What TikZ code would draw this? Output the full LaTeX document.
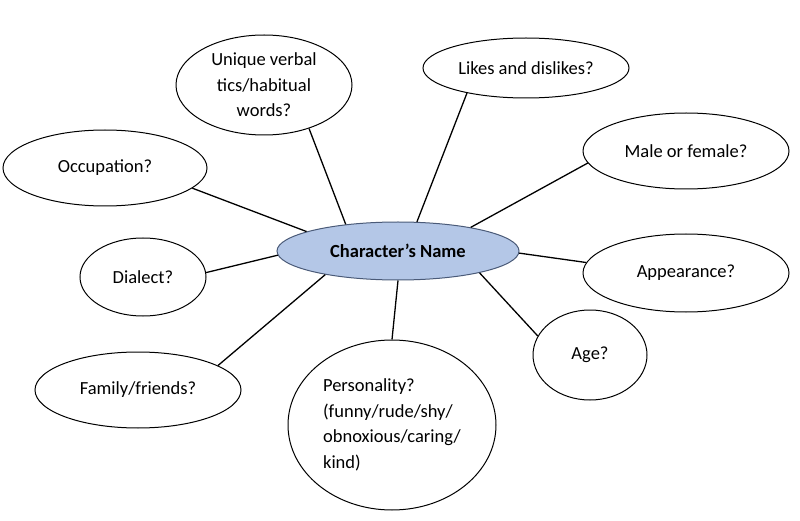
\documentclass[tikz,border=0pt]{standalone}
\usepackage{fontspec}
\setmainfont{Carlito}
\usetikzlibrary{shapes.geometric}
\definecolor{cfill}{HTML}{B4C7E7}
\definecolor{cedge}{HTML}{4A5A78}
\begin{document}
\begin{tikzpicture}[x=1pt,y=-1pt,
  bub/.style={ellipse,draw=black,line width=1pt,inner sep=0pt,align=center,font=\fontsize{18.5}{25.5}\selectfont},
  link/.style={line width=1.3pt}]
\useasboundingbox (0,0) rectangle (800,521);
\node[bub,fill=cfill,draw=cedge,minimum width=242,minimum height=58,font=\fontsize{18.5}{22}\selectfont\bfseries] (c) at (398,251) {Character’s Name};
\node[bub,minimum width=176,minimum height=100] (u) at (264,85) {Unique verbal\\tics/habitual\\words?};
\node[bub,minimum width=206,minimum height=60] (l) at (526,68) {Likes and dislikes?};
\node[bub,minimum width=206,minimum height=76] (m) at (686,151) {Male or female?};
\node[bub,minimum width=204,minimum height=76] (o) at (105,168) {Occupation?};
\node[bub,minimum width=126,minimum height=78] (d) at (143,277) {Dialect?};
\node[bub,minimum width=206,minimum height=78] (a) at (686,273) {Appearance?};
\node[bub,minimum width=114,minimum height=90] (g) at (590,355) {Age?};
\node[bub,minimum width=206,minimum height=76] (f) at (138,390) {Family/friends?};
\node[bub,minimum width=208,minimum height=170,align=left] (p) at (392,425) {Personality?\\(funny/rude/shy/\\obnoxious/caring/\\kind)};
\draw[link] (u.-44) -- (c.153);
\draw[link] (l.203) -- (c.57);
\draw[link] (m.187) -- (c.18);
\draw[link] (o.-13) -- (c.168);
\draw[link] (d.4) -- (c.182);
\draw[link] (a.174) -- (c.-1);
\draw[link] (g.160) -- (c.-15);
\draw[link] (f.17) -- (c.198);
\draw[link] (p.north) -- (c.south);
\end{tikzpicture}
\end{document}
